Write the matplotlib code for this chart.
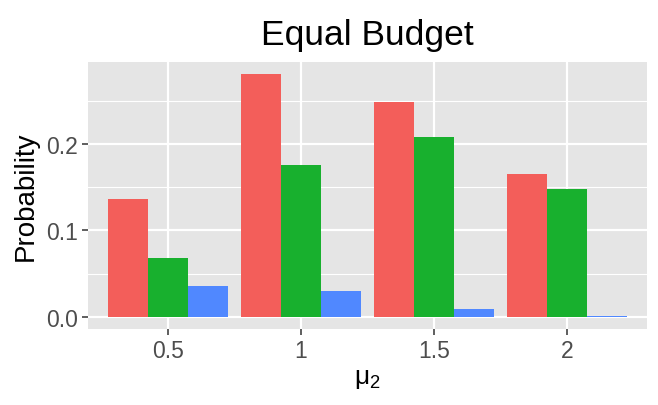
import matplotlib
matplotlib.use("Agg")
import matplotlib.pyplot as plt
import numpy as np
from matplotlib.ticker import MultipleLocator

plt.rcParams['font.family'] = ['Liberation Sans', 'DejaVu Sans']
plt.rcParams['mathtext.fontset'] = 'custom'
plt.rcParams['mathtext.rm'] = 'Liberation Sans'
plt.rcParams['mathtext.it'] = 'Liberation Sans'

categories = ['0.5', '1', '1.5', '2']
series_a = [0.136, 0.281, 0.249, 0.165]
series_b = [0.068, 0.176, 0.208, 0.1475]
series_c = [0.036, 0.030, 0.0096, 0.0015]
colors = ['#F35E5A', '#18B02E', '#5088FF']

fig = plt.figure(figsize=(6.58, 4.06), dpi=100)
ax = fig.add_axes([0.1333, 0.1872, 0.8504, 0.6584])
ax.set_facecolor('#E5E5E5')

x = np.arange(1, len(categories) + 1)
w = 0.3
for i, (vals, c) in enumerate(zip([series_a, series_b, series_c], colors)):
    ax.bar(x + (i - 1) * w, vals, width=w, color=c, linewidth=0, zorder=3)

ax.set_xlim(0.4, 4.6)
ax.set_ylim(-0.0141, 0.2951)
ax.set_xticks(x)
ax.set_xticklabels(categories)
ax.yaxis.set_minor_locator(MultipleLocator(0.05))
ax.set_yticks([0.0, 0.1, 0.2])
ax.set_yticklabels(['0.0', '0.1', '0.2'])

ax.grid(which='major', color='white', linewidth=1.6, zorder=1)
ax.grid(which='minor', axis='y', color='white', linewidth=0.8, zorder=1)
ax.set_axisbelow(True)
for s in ax.spines.values():
    s.set_visible(False)

ax.tick_params(axis='both', which='major', length=4, width=1.1, color='#333333',
               labelcolor='#4D4D4D', labelsize=16.5, pad=3)
ax.tick_params(axis='y', which='minor', length=0)

ax.set_ylabel('Probability', fontsize=20, color='black', labelpad=5)
ax.set_xlabel(r'$\mathregular{μ_2}$', fontsize=19, color='black', labelpad=3)
ax.set_title('Equal Budget', fontsize=25.5, color='black', pad=13)

fig.savefig('out.png', dpi=100)
